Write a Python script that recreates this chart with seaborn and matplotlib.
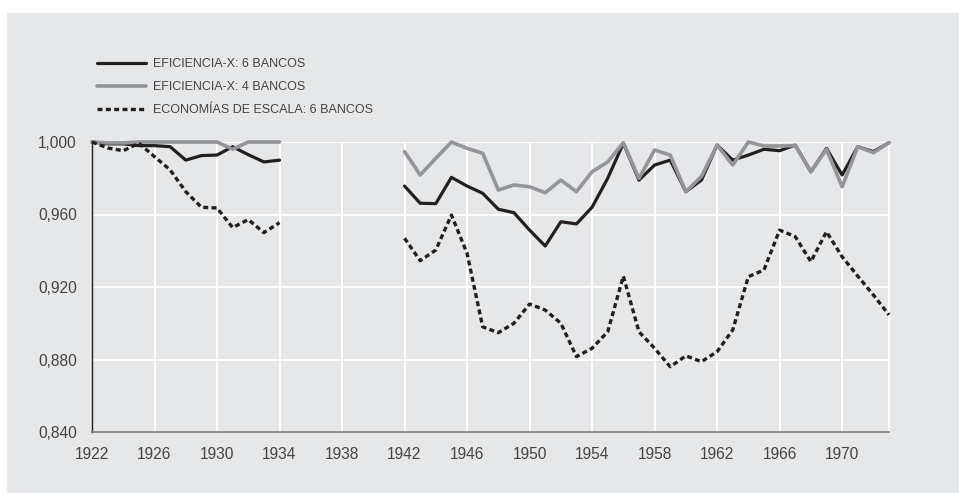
import numpy as np
import pandas as pd
import matplotlib
matplotlib.use("Agg")
import matplotlib.pyplot as plt
from matplotlib.lines import Line2D
from matplotlib.patches import Rectangle
import seaborn as sns

# ---------------- data ----------------
years_a = list(range(1922, 1935))
years_b = list(range(1942, 1974))

efx6_a = [1.000, 0.999, 0.999, 0.998, 0.998, 0.9974, 0.990, 0.9925, 0.9928, 0.9974, 0.993, 0.989, 0.990]
efx4_a = [1.000, 0.9995, 0.9995, 1.000, 1.000, 1.000, 1.000, 1.000, 1.000, 0.996, 1.000, 1.000, 1.000]
esc6_a = [1.000, 0.9967, 0.9952, 0.9993, 0.9919, 0.9846, 0.9726, 0.9640, 0.9636, 0.9528, 0.9572, 0.9500, 0.9555]

efx6_b = [0.9757, 0.9662, 0.9660, 0.9805, 0.9757, 0.9717, 0.9629, 0.9610, 0.9514, 0.9426, 0.9560, 0.9548,
          0.9640, 0.9800, 0.9993, 0.9790, 0.9873, 0.9900, 0.9726, 0.9790, 0.9983, 0.9900, 0.9928, 0.9960,
          0.9952, 0.9983, 0.9836, 0.9965, 0.9818, 0.9974, 0.9947, 0.9996]
efx4_b = [0.9947, 0.9818, 0.9910, 1.000, 0.9965, 0.9938, 0.9735, 0.9763, 0.9753, 0.9720, 0.9790, 0.9726,
          0.9836, 0.9890, 0.9996, 0.9800, 0.9956, 0.9928, 0.9726, 0.9810, 0.9983, 0.9873, 1.000, 0.9978,
          0.9978, 0.9980, 0.9836, 0.9960, 0.9753, 0.9974, 0.9941, 0.9996]
esc6_b = [0.9469, 0.9345, 0.9404, 0.9597, 0.9386, 0.8980, 0.8948, 0.9000, 0.9106, 0.9073, 0.9000, 0.8816,
          0.8862, 0.8953, 0.9260, 0.8953, 0.8862, 0.8760, 0.8820, 0.8788, 0.8843, 0.8963, 0.9257, 0.9294,
          0.9514, 0.9478, 0.9340, 0.9505, 0.9367, 0.9260, 0.9156, 0.9046]

labels = ["EFICIENCIA-X: 6 BANCOS", "EFICIENCIA-X: 4 BANCOS", "ECONOMÍAS DE ESCALA: 6 BANCOS"]
y_ticks = [0.840, 0.880, 0.920, 0.960, 1.000]
y_tick_labels = ["0,840", "0,880", "0,920", "0,960", "1,000"]
x_ticks = [1922, 1926, 1930, 1934, 1938, 1942, 1946, 1950, 1954, 1958, 1962, 1966, 1970]

# ---------------- style ----------------
PANEL = "#e6e7e8"
BLACK = "#231f20"
GREY = "#939598"
TEXT = "#444444"

sns.set_style("white")
plt.rcParams["font.family"] = ["Liberation Sans", "DejaVu Sans"]

W, H = 959, 493
fig = plt.figure(figsize=(W / 100, H / 100), dpi=100)
fig.patch.set_facecolor("white")
fig.patches.append(Rectangle((7 / W, 0), 1 - 7 / W, (H - 13) / H, transform=fig.transFigure,
                             facecolor=PANEL, edgecolor="none", zorder=-10))

left, right = 92 / W, 889 / W
bottom, top = (H - 432) / H, (H - 142) / H
ax = fig.add_axes([left, bottom, right - left, top - bottom])
ax.set_facecolor(PANEL)

styles = [
    dict(color=BLACK, linewidth=2.3, linestyle="-"),
    dict(color=GREY, linewidth=2.6, linestyle="-"),
    dict(color=BLACK, linewidth=2.4, linestyle=(0, (1.5, 1.0))),
]
series_a = [efx6_a, efx4_a, esc6_a]
series_b = [efx6_b, efx4_b, esc6_b]
order = [2, 0, 1]
for i in order:
    for yrs, vals in ((years_a, series_a[i]), (years_b, series_b[i])):
        df = pd.DataFrame({"year": yrs, "value": vals})
        sns.lineplot(data=df, x="year", y="value", ax=ax, estimator=None, sort=True,
                     color=styles[i]["color"], linewidth=styles[i]["linewidth"],
                     linestyle=styles[i]["linestyle"], clip_on=False, zorder=3 + i,
                     solid_joinstyle="round", dash_capstyle="butt")

ax.set_xlim(1922, 1973)
ax.set_ylim(0.840, 1.000)
ax.set_xticks(x_ticks)
ax.set_xticklabels([str(x) for x in x_ticks])
ax.set_yticks(y_ticks)
ax.set_yticklabels(y_tick_labels)
ax.set_xlabel("")
ax.set_ylabel("")
ax.grid(True, color="white", linewidth=1.4)
ax.set_axisbelow(True)
ax.tick_params(axis="both", length=0, labelsize=11.2, labelcolor=TEXT)
ax.tick_params(axis="y", pad=11)
ax.tick_params(axis="x", pad=11)

ax.spines["top"].set_visible(False)
ax.spines["right"].set_color("white")
ax.spines["right"].set_linewidth(1.4)
ax.spines["left"].set_color(BLACK)
ax.spines["left"].set_linewidth(1.0)
ax.spines["bottom"].set_color("#7a7a7a")
ax.spines["bottom"].set_linewidth(1.2)

handles = [Line2D([0], [0], **styles[i]) for i in range(3)]
leg = ax.legend(handles, labels, loc="upper left", bbox_to_anchor=(97 / W, 1 - 58 / H),
                bbox_transform=fig.transFigure, frameon=False, fontsize=9,
                handlelength=3.9, handletextpad=0.55, labelspacing=0.88,
                borderpad=0, borderaxespad=0)
for t in leg.get_texts():
    t.set_color(TEXT)

fig.savefig("out.png", dpi=100, facecolor="white")
